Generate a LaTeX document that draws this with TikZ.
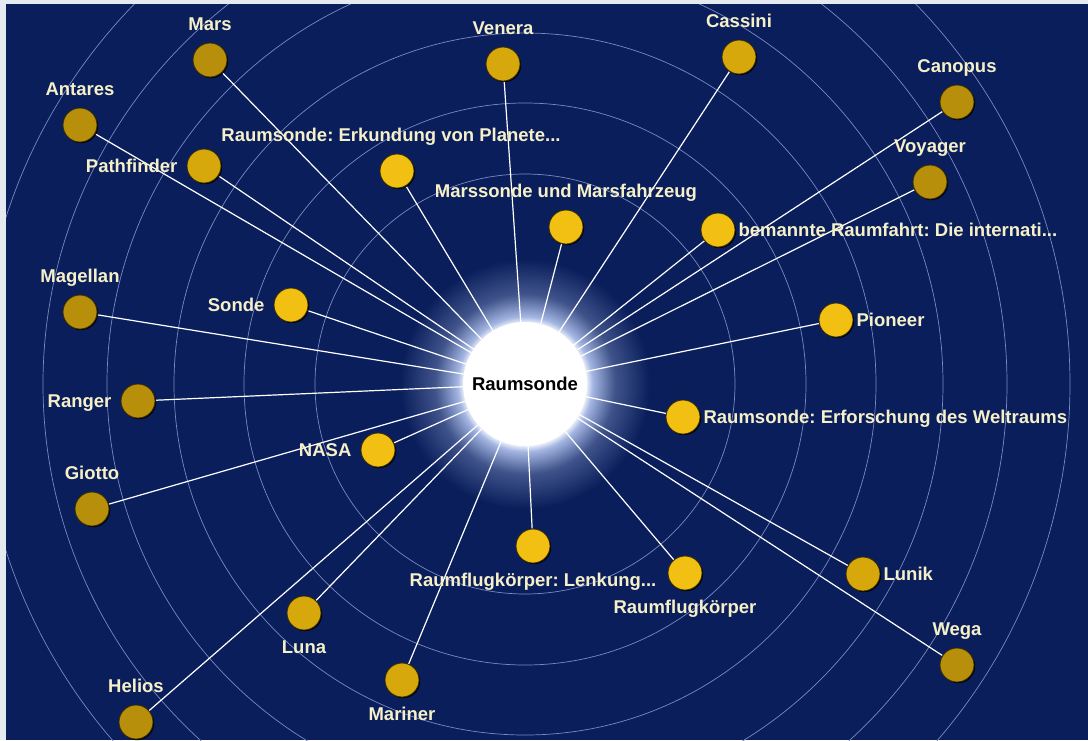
\documentclass[tikz,border=0pt]{standalone}
\usepackage{fontspec}
\setmainfont{Liberation Sans}
\usetikzlibrary{shadows}
\definecolor{spacebg}{HTML}{0A1E5C}
\definecolor{spaceframe}{HTML}{E4EAF0}
\definecolor{orbitline}{HTML}{7A8AC0}
\definecolor{glowblue}{HTML}{A4B6E2}
\definecolor{goldnear}{HTML}{F2C012}
\definecolor{goldmid}{HTML}{D6A80C}
\definecolor{goldfar}{HTML}{B88F0A}
\definecolor{tagcream}{HTML}{F6F0C8}
\pgfdeclareradialshading{hubglow}{\pgfpoint{0bp}{0bp}}{color(0bp)=(white); color(12bp)=(white); color(13.5bp)=(glowblue); color(18bp)=(spacebg!65!glowblue); color(25bp)=(spacebg); color(50bp)=(spacebg)}
\pgfdeclarelayer{sky}
\pgfdeclarelayer{wires}
\pgfsetlayers{sky,wires,main}
\tikzset{
  hub/.style={circle,fill=white,minimum size=124pt,inner sep=0pt,text=black},
  probe/.style={circle,minimum size=34pt,inner sep=0pt,draw=black!70!goldfar,line width=.8pt,
    drop shadow={shadow xshift=1.2pt,shadow yshift=-1.2pt,opacity=.85,fill=black}},
  nearprobe/.style={probe,fill=goldnear},
  midprobe/.style={probe,fill=goldmid},
  farprobe/.style={probe,fill=goldfar},
  tag/.style={text=tagcream,inner sep=0pt,text height=13pt,text depth=0pt},
  tagup/.style={label={[tag,yshift=12pt]above:{#1}}},
  tagdown/.style={label={[tag,yshift=-10pt]below:{#1}}},
  tagleft/.style={label={[tag,xshift=-9pt]left:{#1}}},
  tagright/.style={label={[tag,xshift=3pt]right:{#1}}},
  spoke/.style={white,line width=1.2pt},
  orbit/.style={orbitline,line width=.7pt}
}

\begin{document}
\frenchspacing
\begin{tikzpicture}[x=1pt,y=-1pt,font=\fontsize{18.5}{20}\selectfont\bfseries]
  \useasboundingbox (0,0) rectangle (1088,740);
  \node[hub] (raumsonde) at (525,384) {Raumsonde};
  % outer ring of probes
  \node[farprobe,tagup=Mars] (mars) at (210,60) {};
  \node[farprobe,tagup=Antares] (antares) at (80,125) {};
  \node[farprobe,tagup=Canopus] (canopus) at (957,102) {};
  \node[farprobe,tagup=Voyager] (voyager) at (930,182) {};
  \node[farprobe,tagup=Magellan] (magellan) at (80,312) {};
  \node[farprobe,tagleft=Ranger] (ranger) at (138,401) {};
  \node[farprobe,tagup=Giotto] (giotto) at (92,509) {};
  \node[farprobe,tagup=Helios] (helios) at (136,722) {};
  \node[farprobe,tagup=Wega] (wega) at (957,665) {};
  % middle ring
  \node[midprobe,tagup=Venera] (venera) at (503,64) {};
  \node[midprobe,tagup=Cassini] (cassini) at (739,57) {};
  \node[midprobe,tagleft=Pathfinder] (pathfinder) at (204,166) {};
  \node[midprobe,tagdown=Luna] (luna) at (304,613) {};
  \node[midprobe,tagdown=Mariner] (mariner) at (402,680) {};
  \node[midprobe,tagright=Lunik] (lunik) at (863,574) {};
  % inner ring
  \node[nearprobe,
    label={[tag,xshift=-6pt,yshift=12pt]above:{Raumsonde: Erkundung von Planete...}}] (erkundung) at (397,171) {};
  \node[nearprobe,tagup=Marssonde und Marsfahrzeug] (marssonde) at (566,227) {};
  \node[nearprobe,tagright=bemannte Raumfahrt: Die internati...] (bemannt) at (718,230) {};
  \node[nearprobe,tagleft=Sonde] (sonde) at (291,305) {};
  \node[nearprobe,tagright=Pioneer] (pioneer) at (836,320) {};
  \node[nearprobe,tagright=Raumsonde: Erforschung des Weltraums] (erforschung) at (683,417) {};
  \node[nearprobe,tagleft=NASA] (nasa) at (378,450) {};
  \node[nearprobe,tagdown=Raumflugkörper: Lenkung...] (lenkung) at (533,546) {};
  \node[nearprobe,tagdown=Raumflugkörper] (flugkoerper) at (685,573) {};

  \begin{pgfonlayer}{sky}
    \fill[spaceframe] (0,0) rectangle (1088,740);
    \fill[spacebg] (6,4) rectangle (1088,740);
    \begin{scope}
      \clip (6,4) rectangle (1088,740);
      \foreach \r in {210,281,351,418,482,545}
        \draw[orbit] (raumsonde.center) circle (\r);
      \shade[shading=hubglow] (raumsonde.center) circle (125);
    \end{scope}
  \end{pgfonlayer}
  \begin{pgfonlayer}{wires}
    \foreach \p in {mars,antares,canopus,voyager,magellan,ranger,giotto,helios,wega,
      venera,cassini,pathfinder,luna,mariner,lunik,
      erkundung,marssonde,bemannt,sonde,pioneer,erforschung,nasa,lenkung,flugkoerper}
      \draw[spoke] (raumsonde) -- (\p);
  \end{pgfonlayer}
\end{tikzpicture}
\end{document}
